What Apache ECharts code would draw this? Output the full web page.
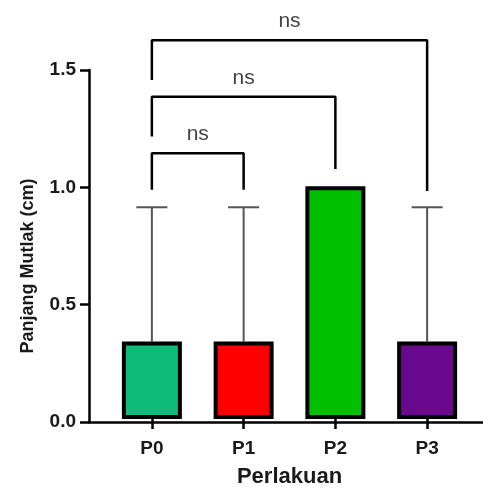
<!DOCTYPE html>
<html>
<head>
<meta charset="utf-8">
<script src="https://cdn.jsdelivr.net/npm/echarts@6/dist/echarts.min.js"></script>
<style>html,body{margin:0;padding:0;background:#fff;}#c{width:483px;height:493px;}</style>
</head>
<body>
<div id="c"></div>
<script>
// ---- data ----
var categories = ['P0', 'P1', 'P2', 'P3'];
var means = [0.333, 0.333, 1.0, 0.333];
var sds = [0.577, 0.577, 0, 0.577];
var barColors = ['#0fbb79', '#ff0000', '#00c000', '#6b098e'];
var yTicks = [0, 0.5, 1.0, 1.5];
// comparison brackets (category index of the two ends)
var bracketFrom = [0, 0, 0];
var bracketTo = [1, 2, 3];
var bracketTop = [1.142, 1.385, 1.628];
var bracketLeftEnd = [0.985, 1.214, 1.457];
var bracketRightEnd = [0.985, 1.074, 0.98];
var bracketLabels = ['ns', 'ns', 'ns'];

var FONT = '"Liberation Sans", Arial, Helvetica, sans-serif';
var chart = echarts.init(document.getElementById('c'), null, {renderer: 'canvas'});

var series = [];
// error bars (upper only)
series.push({
  type: 'custom', xAxisIndex: 1, yAxisIndex: 1, z: 1, clip: false,
  data: categories.map(function (c, i) { return [i, means[i], sds[i]]; }),
  renderItem: function (params, api) {
    var i = api.value(0), m = api.value(1), s = api.value(2);
    if (!(s > 0)) { return {type: 'group', children: []}; }
    var p0 = api.coord([i, m]);
    var p1 = api.coord([i, m + s]);
    var half = 15.5;
    return {
      type: 'group',
      children: [
        {type: 'line', shape: {x1: p0[0], y1: p0[1], x2: p1[0], y2: p1[1]}, style: {stroke: '#555', lineWidth: 2}},
        {type: 'line', shape: {x1: p1[0] - half, y1: p1[1], x2: p1[0] + half, y2: p1[1]}, style: {stroke: '#555', lineWidth: 2}}
      ]
    };
  }
});
// bars
series.push({
  type: 'bar', xAxisIndex: 1, yAxisIndex: 1, z: 3,
  barWidth: 60,
  data: means.map(function (v, i) {
    return {value: v, itemStyle: {color: barColors[i], borderColor: '#000', borderWidth: 4}};
  })
});
// brackets
for (var k = 0; k < bracketTop.length; k++) {
  series.push({
    type: 'line', xAxisIndex: 2, yAxisIndex: 1, z: 4, clip: false,
    symbol: 'none', silent: true,
    lineStyle: {color: '#000', width: 2.5},
    data: [
      [bracketFrom[k], bracketLeftEnd[k]],
      [bracketFrom[k], bracketTop[k]],
      [bracketTo[k], bracketTop[k]],
      [bracketTo[k], bracketRightEnd[k]]
    ]
  });
}
// bracket labels
series.push({
  type: 'scatter', xAxisIndex: 2, yAxisIndex: 1, z: 5, clip: false,
  symbolSize: 1, itemStyle: {color: 'rgba(0,0,0,0)'}, silent: true,
  label: {
    show: true, position: 'top', distance: 8,
    formatter: function (p) { return p.data[2]; },
    fontFamily: FONT, fontSize: 21, color: '#111'
  },
  data: bracketTop.map(function (t, k) {
    return [(bracketFrom[k] + bracketTo[k]) / 2, t, bracketLabels[k]];
  })
});

var option = {
  backgroundColor: '#fff',
  animation: false,
  grid: [
    {left: 89, right: 0, top: 70, bottom: 71},
    {left: 106, right: 10, top: 70, bottom: 71}
  ],
  xAxis: [
    {type: 'category', gridIndex: 0, data: categories, boundaryGap: true,
     axisLine: {show: true, lineStyle: {color: '#000', width: 2.5}},
     axisTick: {show: false}, axisLabel: {show: false}, splitLine: {show: false}},
    {type: 'category', gridIndex: 1, data: categories,
     axisLine: {show: false},
     axisTick: {show: true, alignWithLabel: true, length: 10, lineStyle: {color: '#000', width: 2.5}},
     axisLabel: {show: true, margin: 20, fontFamily: FONT, fontWeight: 'bold', fontSize: 19, color: '#1a1a1a'},
     name: 'Perlakuan', nameLocation: 'middle', nameGap: 47,
     nameTextStyle: {fontFamily: FONT, fontWeight: 'bold', fontSize: 22, color: '#1a1a1a'},
     splitLine: {show: false}},
    {type: 'value', gridIndex: 1, min: -0.5, max: 3.5, show: false}
  ],
  yAxis: [
    {type: 'value', gridIndex: 0, min: 0, max: 1.5, interval: 0.5,
     axisLine: {show: true, lineStyle: {color: '#000', width: 2.5}},
     axisTick: {show: true, length: 9, lineStyle: {color: '#000', width: 2.5}},
     axisLabel: {margin: 13, fontFamily: FONT, fontWeight: 'bold', fontSize: 19, color: '#1a1a1a',
       formatter: function (v) { return v.toFixed(1); }},
     splitLine: {show: false},
     name: 'Panjang Mutlak (cm)', nameLocation: 'middle', nameGap: 52,
     nameTextStyle: {fontFamily: FONT, fontWeight: 'bold', fontSize: 18, color: '#1a1a1a', padding: [0, 40, 0, 0]}},
    {type: 'value', gridIndex: 1, min: 0, max: 1.5, show: false}
  ],
  series: series
};
chart.setOption(option);
</script>
</body>
</html>
